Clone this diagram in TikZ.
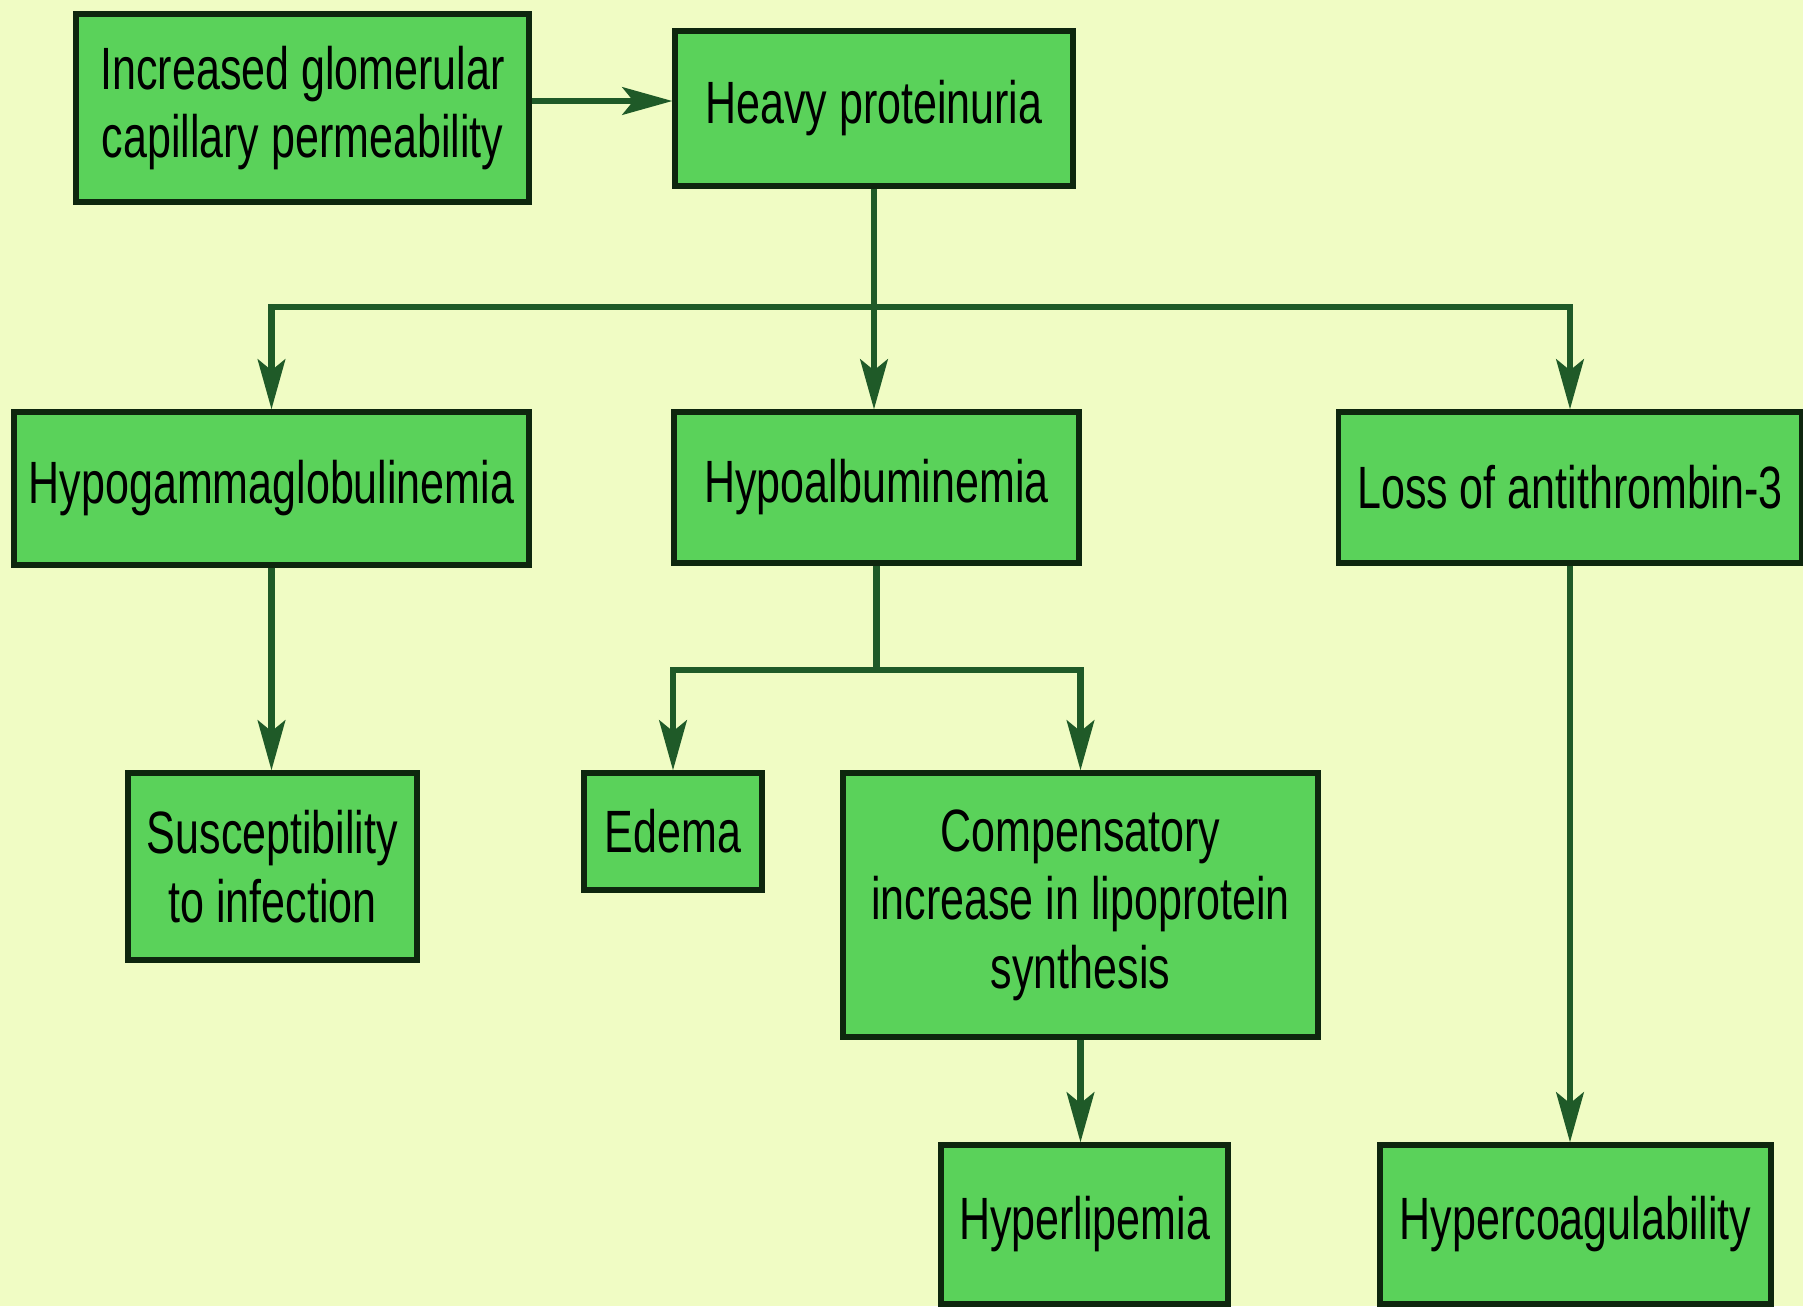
\documentclass[tikz,border=0pt]{standalone}
\usepackage{fontspec}
\setmainfont{Liberation Sans}[FakeStretch=0.72]
\usetikzlibrary{arrows.meta}
\definecolor{bgc}{HTML}{F0FCC4}
\definecolor{boxc}{HTML}{5AD25A}
\definecolor{edgec}{HTML}{0E260E}
\definecolor{arrc}{HTML}{1F5A28}
\tikzset{
  box/.style={draw=edgec, fill=boxc, line width=3pt, inner sep=0pt, align=center,
    font=\fontsize{34}{39}\selectfont, text=black},
  conn/.style={draw=arrc, line width=3.6pt},
  arr/.style={conn, -{Stealth[length=1cm,width=0.55cm,inset=0.22cm]}}
}
\begin{document}
\begin{tikzpicture}[x=0.02cm,y=-0.02cm]
\fill[bgc] (0,0) rectangle (1803,1306);
\useasboundingbox (0,0) rectangle (1803,1306);

\node[box, minimum width=9.06cm, minimum height=3.76cm] (inc) at (302.5,108) {Increased glomerular\\capillary permeability};
\node[box, minimum width=7.96cm, minimum height=3.1cm] (heavy) at (874,108.5) {Heavy proteinuria};
\node[box, minimum width=10.3cm, minimum height=3.06cm] (hypog) at (271.5,488.5) {Hypogammaglobulinemia};
\node[box, minimum width=8.1cm, minimum height=3.02cm] (hypoal) at (876.5,487.5) {Hypoalbuminemia};
\node[box, minimum width=9.26cm, minimum height=3.02cm] (loss) at (1570,487.5) {Loss of antithrombin-3};
\node[box, minimum width=5.78cm, minimum height=3.74cm] (susc) at (272.5,866.5) {Susceptibility\\to infection};
\node[box, minimum width=3.56cm, minimum height=2.34cm] (edema) at (673,831.5) {Edema};
\node[box, minimum width=9.5cm, minimum height=5.28cm] (comp) at (1080.5,905) {Compensatory\\increase in lipoprotein\\synthesis};
\node[box, minimum width=5.74cm, minimum height=3.18cm] (hlip) at (1084.5,1224.5) {Hyperlipemia};
\node[box, minimum width=7.82cm, minimum height=3.18cm] (hcoag) at (1575.5,1224.5) {Hypercoagulability};

\draw[arr] ([yshift=0.14cm]inc.east) -- ([yshift=0.14cm]inc.east -| heavy.west);

\coordinate (j1) at (874,307);
\draw[arr] (heavy.south) -- (heavy.south |- hypoal.north);
\draw[arr] (j1) -| (hypog.north);
\draw[arr] (j1) -| (loss.north);

\draw[arr] (hypog.south) -- (hypog.south |- susc.north);

\coordinate (j2) at (876.5,670);
\draw[conn] (hypoal.south) -- (j2);
\draw[arr] (j2) -| (edema.north);
\draw[arr] (j2) -| (comp.north);

\draw[arr] (comp.south) -- (comp.south |- hlip.north);
\draw[arr] (loss.south) -- (loss.south |- hcoag.north);
\end{tikzpicture}
\end{document}
